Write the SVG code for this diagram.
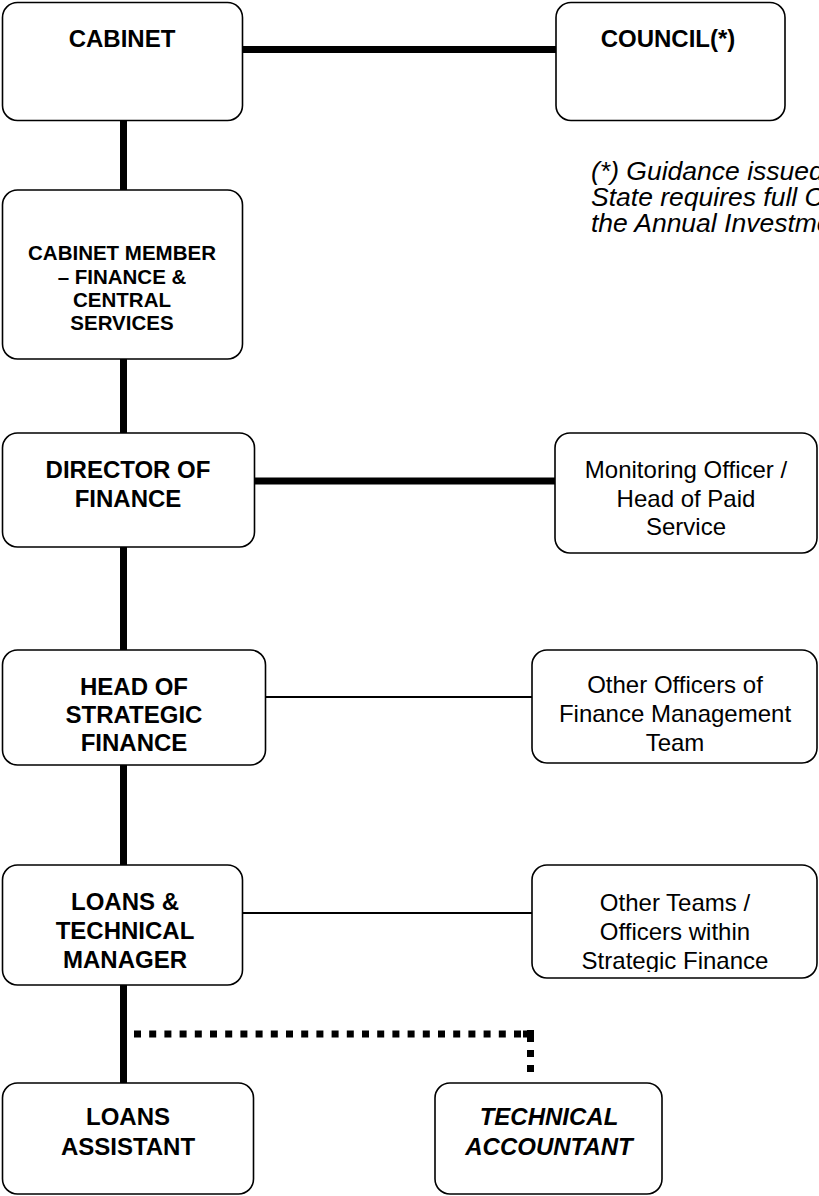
<svg xmlns="http://www.w3.org/2000/svg" width="819" height="1196" viewBox="0 0 819 1196">
<style>
.box{fill:#fff;stroke:#000;stroke-width:1.6}
.t{font-family:"Liberation Sans",Arial,sans-serif;text-anchor:middle;fill:#000}
.b{font-weight:bold;font-size:24px}
.s{font-weight:bold;font-size:20.5px}
.n{font-size:24px}
.i{font-style:italic}
.note{font-family:"Liberation Sans",Arial,sans-serif;font-style:italic;font-size:26.5px;fill:#000}
.thick{stroke:#000;stroke-width:7;fill:none}
.thin{stroke:#000;stroke-width:2;fill:none}
.dot{stroke:#000;stroke-width:7;fill:none}
</style>
<defs>
<clipPath id="clipTeams"><rect x="532" y="865" width="287" height="107"/></clipPath>
</defs>
<rect width="819" height="1196" fill="#fff"/>
<g id="connectors">
<line class="thick" x1="242" y1="49.5" x2="556" y2="49.5"/>
<line class="thick" x1="123.5" y1="120" x2="123.5" y2="190"/>
<line class="thick" x1="123.5" y1="359" x2="123.5" y2="433"/>
<line class="thick" x1="254" y1="481" x2="555" y2="481"/>
<line class="thick" x1="123.5" y1="547" x2="123.5" y2="650"/>
<line class="thin" x1="265" y1="697" x2="532" y2="697"/>
<line class="thick" x1="123.5" y1="765" x2="123.5" y2="865"/>
<line class="thin" x1="242" y1="913" x2="532" y2="913"/>
<line class="thick" x1="123.5" y1="985" x2="123.5" y2="1083"/>
<path class="dot" d="M134 1034 H527" stroke-dasharray="7 8.2"/>
<path class="dot" d="M530.5 1030 V1072" stroke-dasharray="12 8 7 8 7 8"/>
<path class="dot" d="M523 1034 H534"/>
</g>
<g id="cabinet">
<rect class="box" x="2.5" y="2.5" width="240" height="118" rx="15"/>
<text class="t b" x="122" y="47">CABINET</text>
</g>
<g id="council">
<rect class="box" x="556" y="2.5" width="229" height="118" rx="15"/>
<text class="t b" x="668" y="47">COUNCIL(*)</text>
</g>
<g id="note">
<text class="note" x="591" y="180">(*) Guidance issued</text>
<text class="note" x="591" y="206">State requires full Council</text>
<text class="note" x="591" y="232">the Annual Investment</text>
</g>
<g id="cabinet-member">
<rect class="box" x="2.5" y="190" width="240" height="169" rx="15"/>
<text class="t s" x="122" y="260">CABINET MEMBER</text>
<text class="t s" x="122" y="283.5">– FINANCE &amp;</text>
<text class="t s" x="122" y="307">CENTRAL</text>
<text class="t s" x="122" y="330">SERVICES</text>
</g>
<g id="director">
<rect class="box" x="2.5" y="433" width="252" height="114" rx="15"/>
<text class="t b" x="128" y="478">DIRECTOR OF</text>
<text class="t b" x="128" y="507">FINANCE</text>
</g>
<g id="monitoring">
<rect class="box" x="555" y="433" width="262" height="120" rx="15"/>
<text class="t n" x="686" y="478">Monitoring Officer /</text>
<text class="t n" x="686" y="507">Head of Paid</text>
<text class="t n" x="686" y="535">Service</text>
</g>
<g id="head-strategic">
<rect class="box" x="2.5" y="650" width="263" height="115" rx="15"/>
<text class="t b" x="134" y="695">HEAD OF</text>
<text class="t b" x="134" y="723">STRATEGIC</text>
<text class="t b" x="134" y="751">FINANCE</text>
</g>
<g id="other-officers">
<rect class="box" x="532" y="650" width="285" height="113" rx="15"/>
<text class="t n" x="675" y="693">Other Officers of</text>
<text class="t n" x="675" y="722">Finance Management</text>
<text class="t n" x="675" y="751">Team</text>
</g>
<g id="loans-technical-manager">
<rect class="box" x="2.5" y="865" width="240" height="120" rx="15"/>
<text class="t b" x="125" y="910">LOANS &amp;</text>
<text class="t b" x="125" y="939">TECHNICAL</text>
<text class="t b" x="125" y="968">MANAGER</text>
</g>
<g id="other-teams">
<rect class="box" x="532" y="865" width="285" height="113" rx="15"/>
<g clip-path="url(#clipTeams)">
<text class="t n" x="675" y="911">Other Teams /</text>
<text class="t n" x="675" y="940">Officers within</text>
<text class="t n" x="675" y="969">Strategic Finance</text>
</g>
</g>
<g id="loans-assistant">
<rect class="box" x="2.5" y="1083" width="251" height="111" rx="15"/>
<text class="t b" x="128" y="1125">LOANS</text>
<text class="t b" x="128" y="1155">ASSISTANT</text>
</g>
<g id="technical-accountant">
<rect class="box" x="435" y="1083" width="227" height="111" rx="15"/>
<text class="t b i" x="549" y="1125">TECHNICAL</text>
<text class="t b i" x="549" y="1155">ACCOUNTANT</text>
</g>
</svg>
